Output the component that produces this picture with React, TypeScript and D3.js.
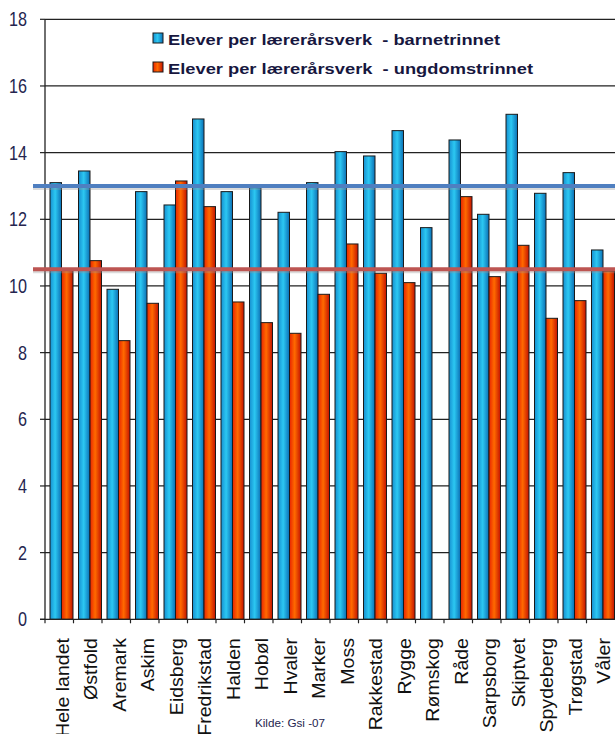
import React from "react";
import * as d3 from "d3";

const categories = [
  "Hele landet", "Østfold", "Aremark", "Askim", "Eidsberg", "Fredrikstad", "Halden",
  "Hobøl", "Hvaler", "Marker", "Moss", "Rakkestad", "Rygge", "Rømskog", "Råde",
  "Sarpsborg", "Skiptvet", "Spydeberg", "Trøgstad", "Våler",
];
const barnetrinnet = [
  13.1, 13.45, 9.9, 12.83, 12.43, 15.01, 12.83, 12.95, 12.21, 13.1, 14.03, 13.9,
  14.66, 11.75, 14.38, 12.15, 15.15, 12.78, 13.4, 11.08,
];
const ungdomstrinnet: (number | null)[] = [
  10.5, 10.76, 8.36, 9.48, 13.15, 12.38, 9.52, 8.9, 8.58, 9.75, 11.26, 10.38,
  10.1, null, 12.68, 10.28, 11.22, 9.03, 9.56, 10.45,
];
const yTicks = [0, 2, 4, 6, 8, 10, 12, 14, 16, 18];
const seriesNames = [
  "Elever per lærerårsverk  - barnetrinnet",
  "Elever per lærerårsverk  - ungdomstrinnet",
];
const refBarnetrinnet = 13.0;
const refUngdomstrinnet = 10.5;
const sourceText = "Kilde: Gsi -07";

const W = 615;
const H = 734;
const FONT = "'Liberation Sans', Arial, sans-serif";

export default function App() {
  const x = d3.scaleBand<string>().domain(categories).range([45, 615]);
  const y = d3.scaleLinear().domain([0, 18]).range([619.3, 19.3]);
  const inner = d3.scaleBand<string>().domain(["b", "u"]).range([5, 28]);
  const step = x.step();
  const bw = inner.bandwidth();

  return (
    <div style={{ position: "absolute", left: 0, top: 0 }}>
      <svg width={W} height={H} style={{ display: "block", background: "#fff" }}>
        <defs>
          <linearGradient id="gBlue" x1="0" x2="1" y1="0" y2="0">
            <stop offset="0" stopColor="#168fd0" />
            <stop offset="0.45" stopColor="#2cc8f2" />
            <stop offset="1" stopColor="#0b6fb5" />
          </linearGradient>
          <linearGradient id="gRed" x1="0" x2="1" y1="0" y2="0">
            <stop offset="0" stopColor="#e82400" />
            <stop offset="0.45" stopColor="#ff6a00" />
            <stop offset="1" stopColor="#c41200" />
          </linearGradient>
        </defs>

        {/* gridlines */}
        {yTicks.filter((t) => t > 0).map((t) => (
          <line key={"g" + t} x1={45} x2={W} y1={y(t)} y2={y(t)} stroke="#222" strokeWidth={1.2} />
        ))}

        {/* bars */}
        {categories.map((c, i) => {
          const x0 = x(c)!;
          const b = barnetrinnet[i];
          const u = ungdomstrinnet[i];
          return (
            <g key={c}>
              <rect x={x0 + inner("b")!} y={y(b)} width={bw} height={y(0) - y(b)}
                fill="url(#gBlue)" stroke="#1a1a1a" strokeWidth={1} />
              {u != null && (
                <rect x={x0 + inner("u")!} y={y(u)} width={bw} height={y(0) - y(u)}
                  fill="url(#gRed)" stroke="#1a1a1a" strokeWidth={1} />
              )}
            </g>
          );
        })}

        {/* axes */}
        <line x1={45} x2={45} y1={y(18)} y2={y(0)} stroke="#222" strokeWidth={1.3} />
        <line x1={40} x2={W} y1={y(0)} y2={y(0)} stroke="#222" strokeWidth={1.3} />
        {yTicks.map((t) => (
          <g key={"t" + t}>
            <line x1={40} x2={45} y1={y(t)} y2={y(t)} stroke="#222" strokeWidth={1.2} />
            <text x={27} y={y(t)} dy="0.36em" textAnchor="end" fontFamily={FONT}
              fontSize={18} fill="#25254f" transform={`translate(27 ${y(t)}) scale(0.9 1.1) translate(-27 ${-y(t)})`}>
              {t}
            </text>
          </g>
        ))}
        {categories.map((c, i) => (
          <line key={"xt" + i} x1={x(c)!} x2={x(c)!} y1={y(0)} y2={y(0) + 4} stroke="#222" strokeWidth={1.2} />
        ))}

        {/* reference lines */}
        <line x1={33} x2={W} y1={y(refBarnetrinnet) + 2} y2={y(refBarnetrinnet) + 2}
          stroke="#999" strokeOpacity={0.35} strokeWidth={4} />
        <line x1={33} x2={W} y1={y(refBarnetrinnet)} y2={y(refBarnetrinnet)}
          stroke="#4f7fc0" strokeWidth={4} />
        <line x1={33} x2={W} y1={y(refUngdomstrinnet) + 2} y2={y(refUngdomstrinnet) + 2}
          stroke="#999" strokeOpacity={0.35} strokeWidth={4} />
        <line x1={33} x2={W} y1={y(refUngdomstrinnet)} y2={y(refUngdomstrinnet)}
          stroke="#bd5552" strokeWidth={4} />

        {/* category labels */}
        {categories.map((c) => (
          <text key={"l" + c}
            transform={`translate(${x(c)! + step / 2 + 9.5} 638) rotate(-90) scale(1.03 1)`}
            textAnchor="end" fontFamily={FONT} fontSize={19} fill="#111">
            {c}
          </text>
        ))}

        {/* legend */}
        {seriesNames.map((s, i) => (
          <g key={s} transform={`translate(153 ${33 + i * 29})`}>
            <rect x={0} y={0} width={10} height={10} fill={i === 0 ? "url(#gBlue)" : "url(#gRed)"}
              stroke="#1a1a1a" strokeWidth={1} />
            <text x={15} y={12} fontFamily={FONT} fontWeight="bold" fontSize={15} fill="#17173f"
              style={{ whiteSpace: "pre" }}
              textLength={i === 0 ? 332 : 365} lengthAdjust="spacingAndGlyphs">
              {s}
            </text>
          </g>
        ))}

        <text x={255} y={727} fontFamily={FONT} fontSize={11} fill="#25254f"
          textLength={70} lengthAdjust="spacingAndGlyphs">
          {sourceText}
        </text>
      </svg>
    </div>
  );
}
